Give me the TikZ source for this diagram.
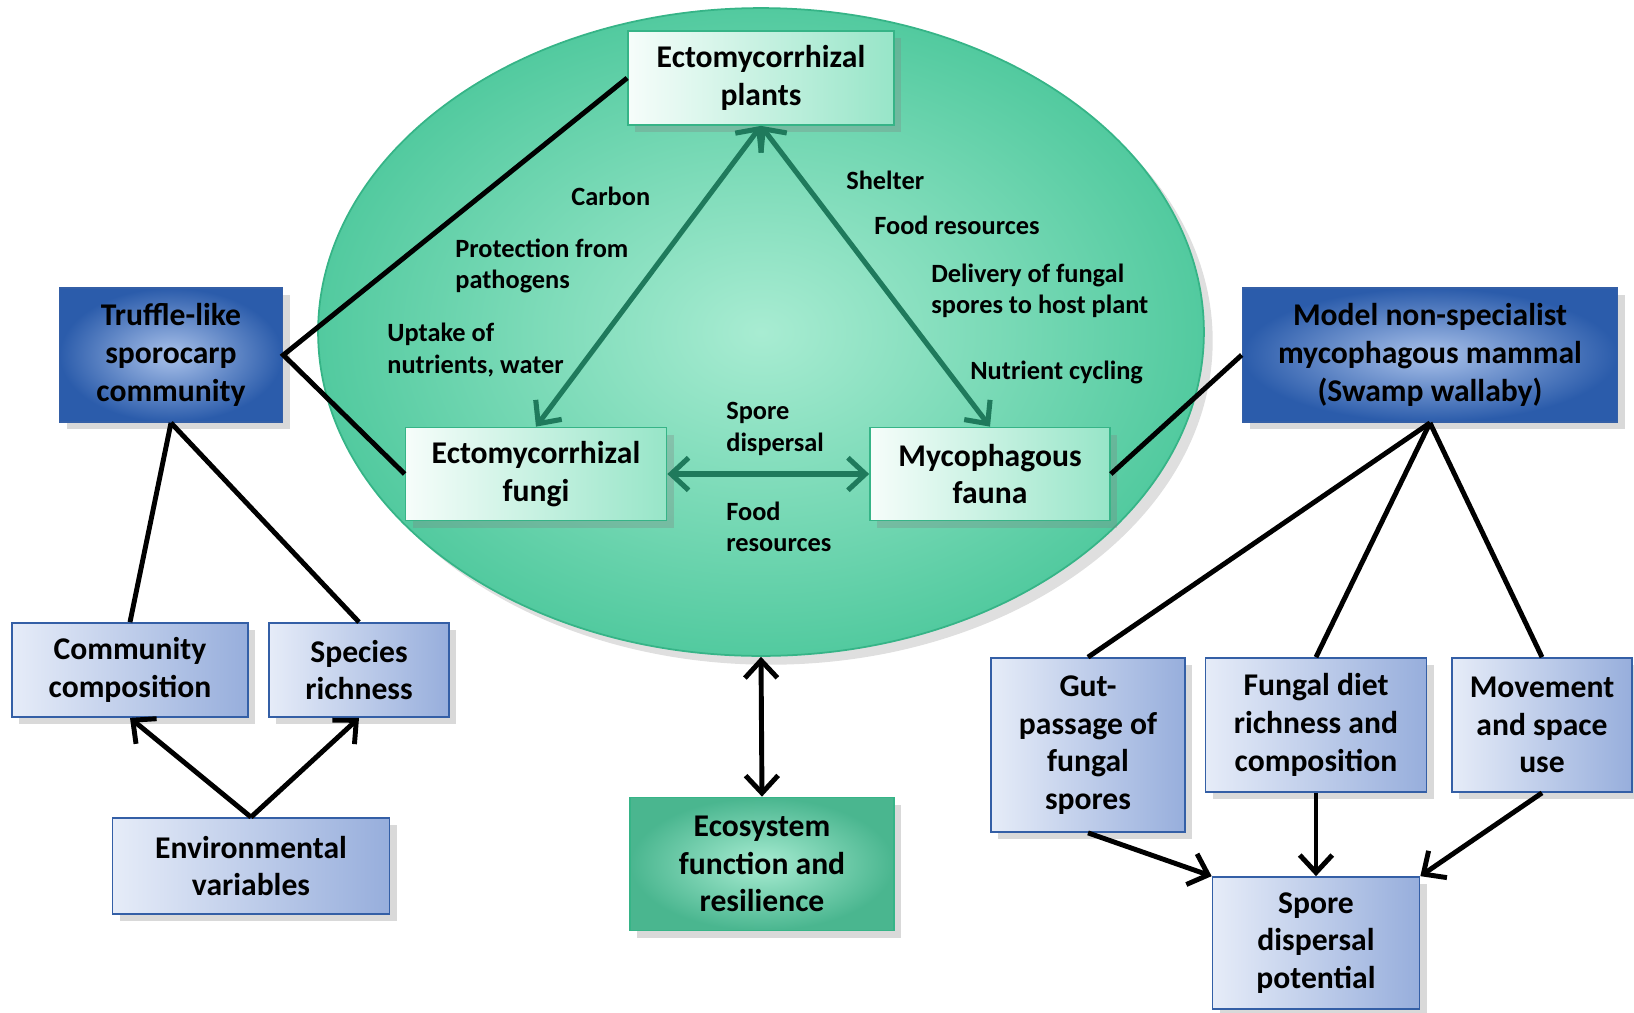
\documentclass[tikz,border=0pt]{standalone}
\usepackage{fontspec}
\setmainfont{Carlito}
\usetikzlibrary{arrows.meta,shadows,shapes.geometric}

\definecolor{teal}{HTML}{36B487}
\definecolor{mintlight}{HTML}{A8ECD2}
\definecolor{mintdark}{HTML}{52CA9F}
\definecolor{arrowgreen}{HTML}{1F7A5C}
\definecolor{deepblue}{HTML}{2B5CAB}
\definecolor{paleblue}{HTML}{A9C1EA}
\definecolor{edgeblue}{HTML}{345FA6}
\definecolor{skylight}{HTML}{E6ECF8}
\definecolor{skydark}{HTML}{97AEDC}

\begin{document}
\begin{tikzpicture}[
  x=0.02cm, y=-0.02cm,
  box/.style={rectangle, draw, line width=1pt, align=center, inner sep=2pt,
    font=\bfseries\fontsize{18}{21.5}\selectfont,
    drop shadow={opacity=0.3, shadow xshift=4pt, shadow yshift=-4pt}},
  mint/.style={box, draw=teal, left color=white!90!mintlight, right color=mintlight!80!mintdark},
  navy/.style={box, draw=edgeblue, inner color=paleblue, outer color=deepblue},
  sky/.style={box, draw=edgeblue, left color=skylight, right color=skydark},
  sea/.style={box, draw=teal, inner color=mintlight, outer color=mintdark!90!black},
  lbl/.style={anchor=west, align=left, inner sep=0pt, font=\bfseries\fontsize{15}{18}\selectfont},
  flow/.style={line width=2.9pt, arrowgreen, {Straight Barb[length=3.5mm,width=6.5mm]}-{Straight Barb[length=3.5mm,width=6.5mm]}},
  link/.style={line width=2.8pt, black},
  push/.style={line width=2.8pt, black, -{Straight Barb[length=3.5mm,width=6.5mm]}}
]
\useasboundingbox (0,0) rectangle (1634,1012);

% central ellipse
\node[ellipse, draw=teal, line width=1pt, inner color=mintlight, outer color=mintdark,
  minimum width=17.72cm, minimum height=12.96cm, inner sep=0pt,
  drop shadow={opacity=0.25, shadow xshift=5pt, shadow yshift=-5pt}] (core) at (761,332) {};

% symbiosis triangle
\node[mint, minimum width=5.32cm, minimum height=1.88cm] (plants) at (761,78) {Ectomycorrhizal\\plants};
\node[mint, minimum width=5.22cm, minimum height=1.86cm] (fungi) at (536,474) {Ectomycorrhizal\\fungi};
\node[mint, minimum width=4.8cm, minimum height=1.86cm] (fauna) at (990,474) {Mycophagous\\fauna};

\draw[flow] (plants.south) -- (fungi.north);
\draw[flow] (plants.south) -- (fauna.north);
\draw[flow] (fungi.east) -- (fauna.west);

\node[lbl] (carbon) at (571,196) {Carbon};
\node[lbl] (protect) at (455,266) {Protection from\\pathogens};
\node[lbl] (uptake) at (387,350) {Uptake of\\nutrients, water};
\node[lbl] (shelter) at (846,180) {Shelter};
\node[lbl] (food) at (874,225) {Food resources};
\node[lbl] (deliver) at (931,291) {Delivery of fungal\\spores to host plant};
\node[lbl] (cycling) at (970,372) {Nutrient cycling};
\node[lbl] (disp) at (726,429) {Spore\\dispersal};
\node[lbl] (foodres) at (726,527) {Food\\resources};

% left branch
\node[navy, minimum width=4.46cm, minimum height=2.68cm] (truffle) at (171,355) {Truffle-like\\sporocarp\\community};
\node[sky, minimum width=4.72cm, minimum height=1.88cm] (comp) at (130,670) {Community\\composition};
\node[sky, minimum width=3.6cm, minimum height=1.88cm] (rich) at (359,670) {Species\\richness};
\node[sky, minimum width=5.54cm, minimum height=1.92cm] (env) at (251,866) {Environmental\\variables};

\draw[link] (plants.west) -- (truffle.east) -- (fungi.west);
\draw[link] (truffle.south) -- (comp.north);
\draw[link] (truffle.south) -- (rich.north);
\draw[push] (env.north) -- (comp.south);
\draw[push] (env.north) -- (rich.south);

% ecosystem
\node[sea, minimum width=5.28cm, minimum height=2.66cm] (eco) at (762,864) {Ecosystem\\function and\\resilience};
\draw[line width=2.8pt, {Straight Barb[length=3.5mm,width=6.5mm]}-{Straight Barb[length=3.5mm,width=6.5mm]}] (core.south) -- (eco.north);

% right branch
\node[navy, minimum width=7.5cm, minimum height=2.68cm] (model) at (1430,355) {Model non-specialist\\mycophagous mammal\\(Swamp wallaby)};
\node[sky, minimum width=3.88cm, minimum height=3.48cm] (gut) at (1088,745) {Gut-\\passage of\\fungal\\spores};
\node[sky, minimum width=4.42cm, minimum height=2.68cm] (diet) at (1316,725) {Fungal diet\\richness and\\composition};
\node[sky, minimum width=3.6cm, minimum height=2.68cm] (move) at (1542,725) {Movement\\and space\\use};
\node[sky, minimum width=4.14cm, minimum height=2.64cm] (spore) at (1316,943) {Spore\\dispersal\\potential};

\draw[link] (fauna.east) -- (model.west);
\draw[link] (model.south) -- (gut.north);
\draw[link] (model.south) -- (diet.north);
\draw[link] (model.south) -- (move.north);
\draw[push] (gut.south) -- (spore.north west);
\draw[push] (diet.south) -- (spore.north);
\draw[push] (move.south) -- (spore.north east);
\end{tikzpicture}
\end{document}
